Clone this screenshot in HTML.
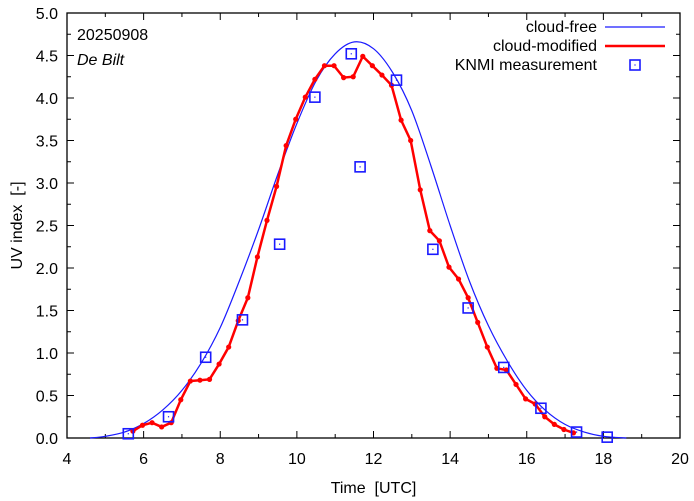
<!DOCTYPE html>
<html><head><meta charset="utf-8"><style>
body{margin:0;background:#fff}
svg{display:block;font-family:"Liberation Sans",sans-serif}
</style></head><body>
<svg id="c" width="694" height="501" viewBox="0 0 694 501"></svg>
<script>
const modTimes=[];for(let k=0;k<47;k++)modTimes.push(5.72+k*0.25);
const modValues=[0.08,0.15,0.18,0.13,0.18,0.45,0.67,0.68,0.69,0.87,1.07,1.38,1.65,2.13,2.56,2.96,3.44,3.75,4.01,4.22,4.38,4.38,4.24,4.25,4.49,4.38,4.27,4.15,3.74,3.50,2.92,2.44,2.32,2.01,1.87,1.65,1.36,1.07,0.82,0.80,0.63,0.46,0.40,0.25,0.16,0.10,0.06];
const clearTimes=[4.6,5,5.5,6,6.5,7,7.5,8,8.5,9,9.5,10,10.5,11,11.5,12,12.5,13,13.5,14,14.5,15,15.5,16,16.5,17,17.5,18,18.6];
const clearValues=[0,0.02,0.07,0.17,0.33,0.56,0.88,1.3,1.85,2.45,3.1,3.7,4.2,4.52,4.66,4.58,4.3,3.85,3.2,2.5,1.85,1.32,0.9,0.56,0.32,0.16,0.07,0.02,0];
const measTimes=[5.6,6.65,7.62,8.58,9.55,10.47,11.42,11.65,12.6,13.55,14.47,15.4,16.37,17.3,18.1];
const measValues=[0.05,0.25,0.95,1.39,2.28,4.01,4.52,3.19,4.21,2.22,1.53,0.83,0.35,0.07,0.01];
const xTicks=[4,6,8,10,12,14,16,18,20];
const yTicks=[0,0.5,1,1.5,2,2.5,3,3.5,4,4.5,5];
const L=67,R=680,T=13,B=438;
const X=t=>L+(t-4)/16*(R-L), Y=v=>B-v/5*(B-T);
const svg=document.getElementById('c');const NS='http://www.w3.org/2000/svg';
function el(tag,attrs,parent){const e=document.createElementNS(NS,tag);for(const k in attrs)e.setAttribute(k,attrs[k]);(parent||svg).appendChild(e);return e;}
let e;
for(let t=4;t<=20;t+=1){const x=X(t),len=(t%2==0)?7:4;
e=el('line',{x1:x,x2:x,y1:B,y2:B-len,stroke:'#000'});
e=el('line',{x1:x,x2:x,y1:T,y2:T+len,stroke:'#000'});}
xTicks.forEach(t=>{e=el('text',{x:X(t),y:B+26,'text-anchor':'middle','font-size':16});e.textContent=t;});
for(let v=0;v<=5.001;v+=0.25){const y=Y(v),len=(Math.round(v*4)%2==0)?7:4;
e=el('line',{x1:L,x2:L+len,y1:y,y2:y,stroke:'#000'});
e=el('line',{x1:R,x2:R-len,y1:y,y2:y,stroke:'#000'});}
yTicks.forEach(v=>{e=el('text',{x:L-9,y:Y(v)+6,'text-anchor':'end','font-size':16});e.textContent=v.toFixed(1);});
e=el('rect',{x:L,y:T,width:R-L,height:B-T,fill:'none',stroke:'#000','stroke-width':1.3});
e=el('text',{x:(L+R)/2,y:493,'text-anchor':'middle','font-size':16});e.textContent='Time\u00a0\u00a0[UTC]';
e=el('text',{x:22,y:(T+B)/2,'text-anchor':'middle','font-size':16,transform:`rotate(-90 22 ${(T+B)/2})`});e.textContent='UV index\u00a0\u00a0[-]';
e=el('text',{x:77,y:40,'font-size':16});e.textContent='20250908';
e=el('text',{x:77,y:65,'font-size':16,'font-style':'italic'});e.textContent='De Bilt';
const pts=clearTimes.map((t,i)=>[X(t),Y(clearValues[i])]);
let d=`M${pts[0][0]},${pts[0][1]}`;
for(let i=0;i<pts.length-1;i++){const p0=pts[Math.max(0,i-1)],p1=pts[i],p2=pts[i+1],p3=pts[Math.min(pts.length-1,i+2)];
d+=` C${p1[0]+(p2[0]-p0[0])/6},${p1[1]+(p2[1]-p0[1])/6} ${p2[0]-(p3[0]-p1[0])/6},${p2[1]-(p3[1]-p1[1])/6} ${p2[0]},${p2[1]}`;}
e=el('path',{d:d,fill:'none',stroke:'#1a1aff','stroke-width':1.2});
e=el('polyline',{points:modTimes.map((t,i)=>X(t)+','+Y(modValues[i])).join(' '),fill:'none',stroke:'#f00','stroke-width':2.5});
modTimes.forEach((t,i)=>{e=el('circle',{cx:X(t),cy:Y(modValues[i]),r:2.6,fill:'#f00'});});
measTimes.forEach((t,i)=>{const x=X(t),y=Y(measValues[i]);
e=el('rect',{x:x-5,y:y-5,width:10,height:10,fill:'none',stroke:'#1a1aff','stroke-width':1.6});
el('rect',{x:x-0.6,y:y-0.6,width:1.2,height:1.2,fill:'#1a1aff'});});
const lg=[['cloud-free',27],['cloud-modified',46],['KNMI measurement',65]];
lg.forEach(([n,y])=>{e=el('text',{x:597,y:y+5,'text-anchor':'end','font-size':16});e.textContent=n;});
e=el('line',{x1:605,x2:665,y1:27,y2:27,stroke:'#1a1aff','stroke-width':1.2});
e=el('line',{x1:605,x2:665,y1:46,y2:46,stroke:'#f00','stroke-width':2.5});
e=el('rect',{x:630,y:60,width:10,height:10,fill:'none',stroke:'#1a1aff','stroke-width':1.6});
el('rect',{x:634.4,y:64.4,width:1.2,height:1.2,fill:'#1a1aff'});
</script>
</body></html>
